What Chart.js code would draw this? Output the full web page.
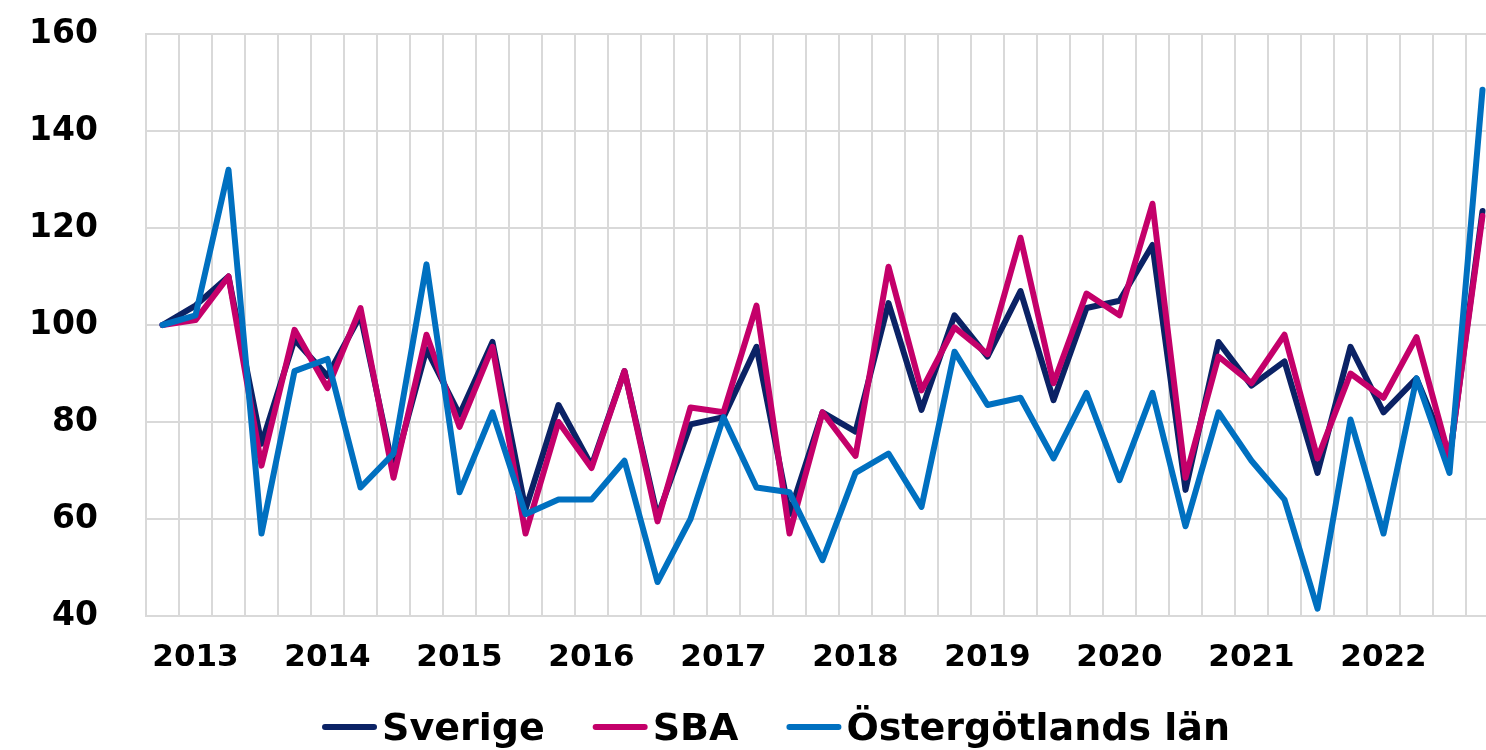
<!DOCTYPE html>
<html>
<head>
<meta charset="utf-8">
<script src="https://cdn.jsdelivr.net/npm/chart.js@4"></script>
<style>
  html, body { margin: 0; padding: 0; background: #ffffff; overflow: hidden; }
  #wrap { position: absolute; left: 0; top: 0; width: 1499px; height: 750px; }
</style>
</head>
<body>
<div id="wrap"><canvas id="c" width="1499" height="750"></canvas></div>
<script>
// Quarterly categories 2013 K1 – 2023 K1
const categories = [
  '2013 K1','2013 K2','2013 K3','2013 K4',
  '2014 K1','2014 K2','2014 K3','2014 K4',
  '2015 K1','2015 K2','2015 K3','2015 K4',
  '2016 K1','2016 K2','2016 K3','2016 K4',
  '2017 K1','2017 K2','2017 K3','2017 K4',
  '2018 K1','2018 K2','2018 K3','2018 K4',
  '2019 K1','2019 K2','2019 K3','2019 K4',
  '2020 K1','2020 K2','2020 K3','2020 K4',
  '2021 K1','2021 K2','2021 K3','2021 K4',
  '2022 K1','2022 K2','2022 K3','2022 K4',
  '2023 K1'
];
// Tick labels shown on the x axis (year label at second quarter)
const tickLabels = [
  '','2013','','',
  '','2014','','',
  '','2015','','',
  '','2016','','',
  '','2017','','',
  '','2018','','',
  '','2019','','',
  '','2020','','',
  '','2021','','',
  '','2022','','',
  ''
];
const seriesNames = ['Sverige', 'SBA', 'Östergötlands län'];
const sverige = [
  100, 104, 110, 75.5,
  97, 89.5, 102, 70,
  95, 81.5, 96.5, 62,
  83.5, 71, 90.5, 60.5,
  79.5, 81, 95.5, 61,
  82, 78, 104.5, 82.5,
  102, 93.5, 107, 84.5,
  103.5, 105, 116.5, 66,
  96.5, 87.5, 92.5, 69.5,
  95.5, 82, 89, 72.5,
  123.5
];
const sba = [
  100, 101, 110, 71,
  99, 87, 103.5, 68.5,
  98, 79, 95.5, 57,
  80, 70.5, 90.5, 59.5,
  83, 82, 104, 57,
  82, 73, 112, 86.5,
  99.5, 94, 118, 88,
  106.5, 102, 125, 68.5,
  93.5, 88, 98, 72.5,
  90, 85, 97.5, 72.5,
  122.5
];
const ostergotland = [
  100, 102, 132, 57,
  90.5, 93, 66.5, 73.5,
  112.5, 65.5, 82, 61,
  64, 64, 72, 47,
  60, 81, 66.5, 65.5,
  51.5, 69.5, 73.5, 62.5,
  94.5, 83.5, 85, 72.5,
  86, 68, 86, 58.5,
  82, 72, 64, 41.5,
  80.5, 57, 89, 69.5,
  148.5
];
const yTicks = [40, 60, 80, 100, 120, 140, 160];

const colors = ['#0b2265', '#c4006a', '#0070c0'];
const gridColor = '#d9d9d9';
const FONT = '"DejaVu Sans", "Liberation Sans", sans-serif';

const legendPlugin = {
  id: 'customLegend',
  afterDraw(chart) {
    const ctx = chart.ctx;
    ctx.save();
    ctx.font = 'bold 38px ' + FONT;
    const lineLen = 55, gap = 5, spacing = 48;
    const widths = seriesNames.map(n => ctx.measureText(n).width);
    let total = 0;
    widths.forEach((w, i) => { total += lineLen + gap + w + (i < widths.length - 1 ? spacing : 0); });
    let x = 776 - total / 2;
    const yLine = 727, yText = 740;
    seriesNames.forEach((name, i) => {
      ctx.strokeStyle = colors[i];
      ctx.lineWidth = 6;
      ctx.lineCap = 'round';
      ctx.beginPath();
      ctx.moveTo(x + 3, yLine);
      ctx.lineTo(x + lineLen - 3, yLine);
      ctx.stroke();
      ctx.fillStyle = '#000000';
      ctx.textBaseline = 'alphabetic';
      ctx.textAlign = 'left';
      ctx.fillText(name, x + lineLen + gap, yText);
      x += lineLen + gap + widths[i] + spacing;
    });
    ctx.restore();
  }
};

const mkDs = (label, data, color, order) => ({
  label, data,
  borderColor: color,
  backgroundColor: color,
  borderWidth: 6,
  pointRadius: 0,
  pointHoverRadius: 0,
  tension: 0,
  fill: false,
  borderJoinStyle: 'round',
  borderCapStyle: 'round',
  order
});

new Chart(document.getElementById('c'), {
  type: 'line',
  data: {
    labels: categories,
    datasets: [
      mkDs(seriesNames[0], sverige, colors[0], 2),
      mkDs(seriesNames[1], sba, colors[1], 1),
      mkDs(seriesNames[2], ostergotland, colors[2], 0)
    ]
  },
  options: {
    responsive: false,
    animation: false,
    layout: { padding: { top: 34, left: 0, right: 0, bottom: 0 } },
    plugins: {
      legend: { display: false },
      tooltip: { enabled: false }
    },
    scales: {
      x: {
        type: 'category',
        offset: true,
        grid: { display: true, offset: true, color: gridColor, lineWidth: 2, drawTicks: false },
        border: { display: true, color: gridColor, width: 2 },
        ticks: {
          autoSkip: false,
          maxRotation: 0,
          minRotation: 0,
          padding: 23,
          color: '#000000',
          font: { family: FONT, size: 31, weight: 'bold' },
          callback: (v, i) => tickLabels[i]
        },
        afterFit: (s) => { s.height = 134; s.paddingLeft = 0; s.paddingRight = 0; }
      },
      y: {
        min: 40,
        max: 160,
        afterBuildTicks: (s) => { s.ticks = yTicks.map(v => ({ value: v })); },
        grid: { color: gridColor, lineWidth: 2, drawTicks: false },
        border: { display: true, color: gridColor, width: 2 },
        ticks: {
          padding: 48,
          color: '#000000',
          font: { family: FONT, size: 33, weight: 'bold' }
        },
        afterFit: (s) => { s.width = 146; s.paddingTop = 0; s.paddingBottom = 0; }
      }
    }
  },
  plugins: [legendPlugin]
});
</script>
</body>
</html>
